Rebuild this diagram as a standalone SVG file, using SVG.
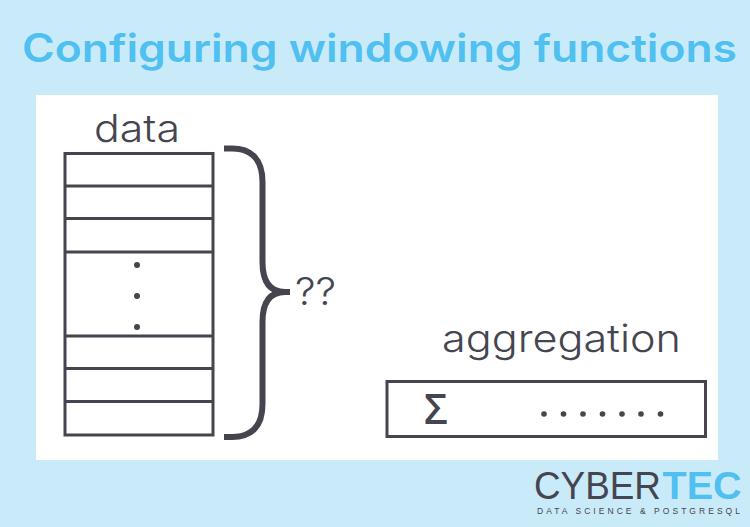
<svg xmlns="http://www.w3.org/2000/svg" width="750" height="527" viewBox="0 0 750 527">
<style>
.t{font-family:"Inter","Open Sans",sans-serif;font-weight:300;fill:#45454f;font-variant-ligatures:none}
.l{fill:none;stroke:#45454f;stroke-width:3}
.d{fill:#45454f}
.g{font-family:"Liberation Sans",sans-serif}
</style>
<rect width="750" height="527" fill="#c9ebf9"/>
<rect x="36" y="95" width="682" height="365" fill="#fff"/>
<text x="22" y="62" font-size="39" font-weight="600" font-family="Inter,'Open Sans',sans-serif" fill="#4fc0f0" textLength="715" lengthAdjust="spacingAndGlyphs">Configuring windowing functions</text>
<g id="data">
<text class="t" x="94" y="142" font-size="38" textLength="86" lengthAdjust="spacingAndGlyphs">data</text>
<rect class="l" x="65" y="153.500" width="148" height="281.500"/>
<path class="l" d="M65 186H213M65 218.500H213M65 252H213M65 336H213M65 368.500H213M65 401.500H213"/>
<circle class="d" cx="137" cy="265" r="3"/><circle class="d" cx="137" cy="296" r="3"/><circle class="d" cx="137" cy="327" r="3"/>
</g>
<g id="brace">
<path d="M224 148.500H232C252 148.500 262.500 160 262.500 182V262C262.500 282 270 292 285 292H290M285 292C270 292 262.500 302 262.500 322V404C262.500 426 252 437 232 437H224" fill="none" stroke="#45454f" stroke-width="6"/>
<text class="t" x="295" y="305" font-size="38" textLength="41" lengthAdjust="spacingAndGlyphs">??</text>
</g>
<g id="aggregation">
<text class="t" x="442" y="352" font-size="38" textLength="239" lengthAdjust="spacingAndGlyphs">aggregation</text>
<rect x="387" y="381.500" width="318.500" height="55" fill="none" stroke="#45454f" stroke-width="3"/>
<text x="424" y="424" font-size="41" font-weight="600" font-family="'Open Sans',sans-serif" fill="#45454f">Σ</text>
<g class="d"><circle cx="544" cy="414" r="2.800"/><circle cx="563.500" cy="414" r="2.800"/><circle cx="583" cy="414" r="2.800"/><circle cx="602.500" cy="414" r="2.800"/><circle cx="622" cy="414" r="2.800"/><circle cx="641" cy="414" r="2.800"/><circle cx="660.500" cy="414" r="2.800"/></g>
</g>
<g id="logo">
<text class="g" x="534" y="498.500" font-size="39" fill="#45454f" textLength="127" lengthAdjust="spacingAndGlyphs">CYBER</text>
<text class="g" x="662.500" y="498.500" font-size="39" font-weight="700" fill="#4fc0f0" textLength="79" lengthAdjust="spacingAndGlyphs">TEC</text>
<text class="g" x="537" y="513.500" font-size="8.500" fill="#45454f" textLength="203">DATA SCIENCE &amp; POSTGRESQL</text>
</g>
</svg>
